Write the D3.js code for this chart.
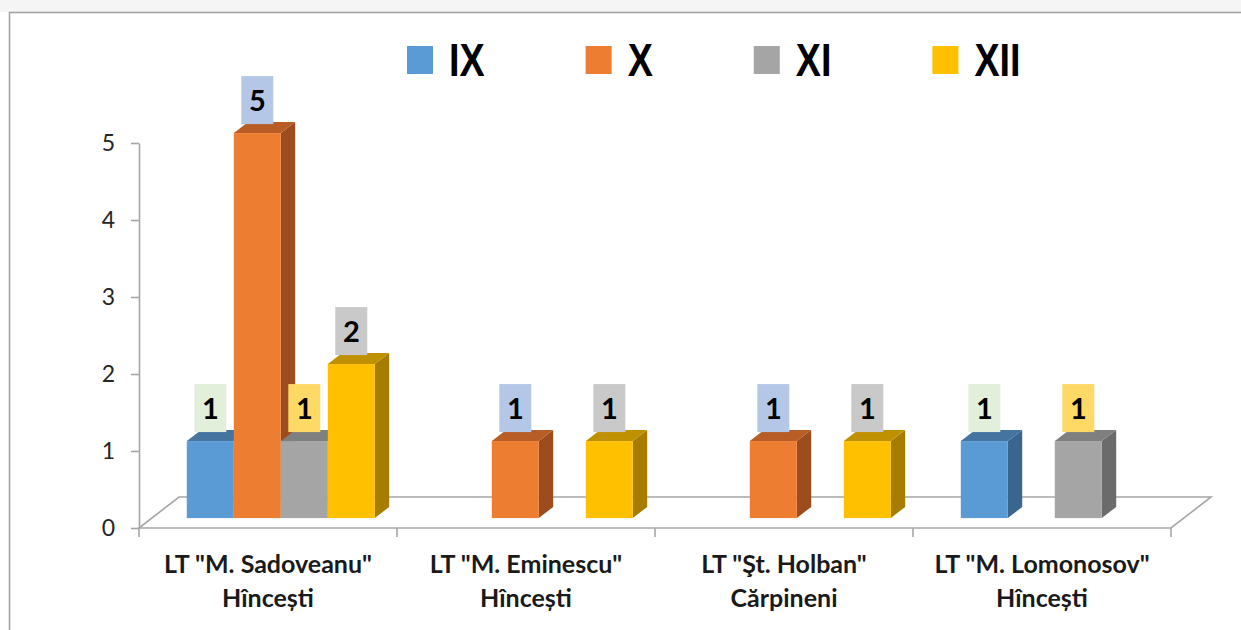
<!DOCTYPE html>
<html>
<head>
<meta charset="utf-8">
<script src="https://cdn.jsdelivr.net/npm/d3@7"></script>
<style>
  html, body { margin: 0; padding: 0; background: #fff; }
  svg { display: block; }
</style>
</head>
<body>
<svg id="chart" width="1241" height="630"></svg>
<script>
// ---------- data ----------
const categories = ['LT "M. Sadoveanu"\nHîncești', 'LT "M. Eminescu"\nHîncești', 'LT "Şt. Holban"\nCărpineni', 'LT "M. Lomonosov"\nHîncești'];
const series = ['IX', 'X', 'XI', 'XII'];
const valuesIX  = [1, null, null, 1];
const valuesX   = [5, 1, 1, null];
const valuesXI  = [1, null, null, 1];
const valuesXII = [2, 1, 1, null];
const yTicks = [0, 1, 2, 3, 4, 5];

const seriesValues = [valuesIX, valuesX, valuesXI, valuesXII];

// ---------- styles ----------
const frontColors = ['#5b9bd5', '#ed7d31', '#a5a5a5', '#ffc000'];
const topColors   = ['#44749f', '#b85d26', '#7f7f7f', '#bf9000'];
const sideColors  = ['#39658f', '#9c4c1d', '#6b6b6b', '#a67d00'];
const labelBg     = ['#e2efda', '#b4c7e7', '#ffd966', '#c9c9c9'];

const svg = d3.select('#chart');
const W = 1241, H = 630;

svg.append('rect').attr('width', W).attr('height', H).attr('fill', '#fff');
svg.append('rect').attr('width', W).attr('height', 12).attr('fill', '#f5f5f5');
svg.append('path').attr('d', 'M9.5,630 V12.5 H1241').attr('fill', 'none')
   .attr('stroke', '#a0a0a0').attr('stroke-width', 1.5);

// ---------- scales ----------
const x = d3.scaleBand().domain(categories).range([139, 1171]);
const y = d3.scaleLinear().domain([0, 5]).range([528, 143]);
const groupW = 188;
const xs = d3.scaleBand().domain(series).range([0, groupW]);

// 3D projection
const depth = { dx: 40, dy: -31 };
const f0 = 0.32, f1 = 0.68;
const fdx = depth.dx * f0, fdy = depth.dy * f0;
const sdx = depth.dx * (f1 - f0), sdy = depth.dy * (f1 - f0);

// ---------- floor ----------
const x0 = x.range()[0], x1 = x.range()[1], yb = y(0);
svg.append('path')
  .attr('d', `M${x0},${yb} L${x1},${yb} L${x1 + depth.dx},${yb + depth.dy} L${x0 + depth.dx},${yb + depth.dy} Z`)
  .attr('fill', '#fff').attr('stroke', '#a6a6a6').attr('stroke-width', 1.6);

// ---------- y axis ----------
const yAxis = d3.axisLeft(y).tickValues(yTicks).tickSize(8).tickSizeOuter(0).tickPadding(16)
  .tickFormat(d3.format('d'));
const gy = svg.append('g').attr('transform', `translate(${x0},0)`).call(yAxis);
gy.selectAll('path, line').attr('stroke', '#a6a6a6').attr('stroke-width', 1.6);
gy.selectAll('text').attr('font-family', 'Lato, "Open Sans", sans-serif')
  .attr('font-size', 23).attr('fill', '#262626');

// ---------- x axis ticks and labels ----------
const boundaries = categories.map(c => x(c)).concat([x1]);
svg.append('g').selectAll('line').data(boundaries).join('line')
  .attr('x1', d => d).attr('x2', d => d).attr('y1', yb).attr('y2', yb + 9)
  .attr('stroke', '#a6a6a6').attr('stroke-width', 1.6);

const xl = svg.append('g').selectAll('text').data(categories).join('text')
  .attr('text-anchor', 'middle')
  .attr('font-family', 'Lato, "Open Sans", sans-serif')
  .attr('font-weight', 'bold').attr('font-size', 25).attr('fill', '#1a1a1a');
xl.each(function(c) {
  const lines = c.split('\n');
  const cx = x(c) + x.bandwidth() / 2;
  d3.select(this).selectAll('tspan').data(lines).join('tspan')
    .attr('x', cx).attr('y', (d, i) => 573 + i * 34).text(d => d);
});

// ---------- bars ----------
const offset = (x.bandwidth() - groupW) / 2;
const bars = [];
categories.forEach((c, ci) => {
  series.forEach((s, si) => {
    const v = seriesValues[si][ci];
    if (v == null || v === 0) return;
    bars.push({ c, s, si, v });
  });
});

const gBars = svg.append('g');
bars.forEach(b => {
  const bx = x(b.c) + offset + fdx + xs(b.s);
  const w = xs.bandwidth();
  const yt = y(b.v) + fdy;
  const ybot = y(0) + fdy;
  const g = gBars.append('g');
  g.append('path')
    .attr('d', `M${bx + w},${yt} L${bx + w},${ybot} L${bx + w + sdx},${ybot + sdy} L${bx + w + sdx},${yt + sdy} Z`)
    .attr('fill', sideColors[b.si]);
  g.append('path')
    .attr('d', `M${bx},${yt} L${bx + w},${yt} L${bx + w + sdx},${yt + sdy} L${bx + sdx},${yt + sdy} Z`)
    .attr('fill', topColors[b.si]);
  g.append('rect').attr('x', bx).attr('y', yt).attr('width', w).attr('height', ybot - yt)
    .attr('fill', frontColors[b.si]);
  b.cx = bx + w / 2; b.yt = yt;
});

// ---------- data labels ----------
const gLab = svg.append('g');
bars.forEach(b => {
  const bw = 32, bh = 48;
  const by = b.yt - 9 - bh;
  gLab.append('rect').attr('x', b.cx - bw / 2).attr('y', by).attr('width', bw).attr('height', bh)
    .attr('fill', labelBg[b.si]);
  gLab.append('text').attr('x', b.cx).attr('y', by + bh / 2 + 10.5)
    .attr('text-anchor', 'middle')
    .attr('font-family', 'Lato, "Open Sans", sans-serif')
    .attr('font-weight', 'bold').attr('font-size', 29).attr('fill', '#000')
    .text(d3.format('d')(b.v));
});

// ---------- legend ----------
const gLeg = svg.append('g');
let lx = 407;
const squeeze = 0.82;
series.forEach((s, i) => {
  gLeg.append('rect').attr('x', lx).attr('y', 46).attr('width', 26).attr('height', 28)
    .attr('fill', frontColors[i]);
  const tx = lx + 42;
  const t = gLeg.append('text').attr('x', 0).attr('y', 0)
    .attr('transform', `translate(${tx},76) scale(${squeeze},1)`)
    .attr('font-family', '"Liberation Sans", Arial, sans-serif')
    .attr('font-weight', 'bold').attr('font-size', 46).attr('fill', '#000')
    .text(s);
  lx = tx + t.node().getComputedTextLength() * squeeze + 101;
});
</script>
</body>
</html>
